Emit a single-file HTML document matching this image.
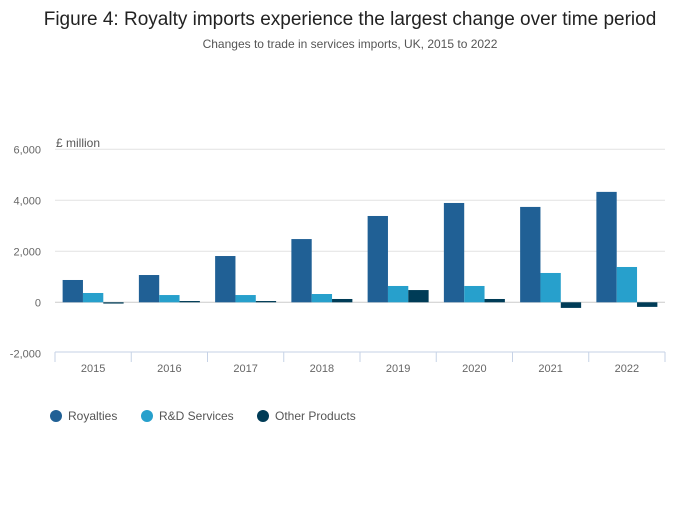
<!DOCTYPE html>
<html><head><meta charset="utf-8"><style>
body{margin:0;background:#fff;font-family:"Liberation Sans",sans-serif;}
svg text{font-family:"Liberation Sans",sans-serif;}
</style></head><body>
<svg id="chart" width="700" height="502" xmlns="http://www.w3.org/2000/svg">
<text x="350" y="25" text-anchor="middle" font-size="19" fill="#222">Figure 4: Royalty imports experience the largest change over time period</text>
<text x="350" y="48" text-anchor="middle" font-size="12" fill="#555">Changes to trade in services imports, UK, 2015 to 2022</text>
<text x="56" y="147" font-size="12" fill="#555">£ million</text>
<g id="grid"></g><g id="bars"></g><g id="xaxis"></g>
<g>
<g><circle cx="56" cy="416" r="6" fill="#206095"/><text x="68" y="420" font-size="12" fill="#555">Royalties</text></g>
<g><circle cx="147" cy="416" r="6" fill="#27a0cc"/><text x="159" y="420" font-size="12" fill="#555">R&amp;D Services</text></g>
<g><circle cx="263" cy="416" r="6" fill="#003c57"/><text x="275" y="420" font-size="12" fill="#555">Other Products</text></g>
</g>
</svg>
<script>
const categories=["2015","2016","2017","2018","2019","2020","2021","2022"];
const royalties=[875,1070,1815,2480,3385,3895,3740,4330];
const rdServices=[365,285,285,325,640,640,1150,1385];
const otherProducts=[-50,50,50,130,480,130,-220,-180];
const yTicks=[6000,4000,2000,0,-2000];
const yTickLabels=["6,000","4,000","2,000","0","-2,000"];
const NS="http://www.w3.org/2000/svg";
const x0=55,x1=665,yTop=149.3,yZero=302.3;
const y=v=>yZero-(v/1000)*25.5;
const catW=(x1-x0)/categories.length;
function mk(tag,attrs,parent){const e=document.createElementNS(NS,tag);for(const k in attrs)e.setAttribute(k,attrs[k]);parent.appendChild(e);return e;}
const grid=document.getElementById('grid'),bars=document.getElementById('bars'),xa=document.getElementById('xaxis');
yTicks.forEach((t,i)=>{
 if(t>-2000){const l=mk('line',{x1:x0,x2:x1,y1:y(t),y2:y(t),stroke:t===0?'#ccc':'#e2e2e2','stroke-width':1},grid);
 
 }
 const tx=mk('text',{x:41,y:y(t)+4,'text-anchor':'end','font-size':11,fill:'#666'},grid);tx.textContent=yTickLabels[i];
 
 
});
const ax=mk('line',{x1:x0,x2:x1,y1:352,y2:352,stroke:'#c6d2e6','stroke-width':1},xa);


const series=[[royalties,'#206095','royalties'],[rdServices,'#27a0cc','rd-services'],[otherProducts,'#003c57','other-products']];
const pad=catW*0.1,bw=(catW-2*pad)/3;
categories.forEach((c,i)=>{
 const cx=x0+i*catW;
 const tk=mk('line',{x1:cx,x2:cx,y1:352,y2:362,stroke:'#c6d2e6'},xa);
 
 
 const lb=mk('text',{x:cx+catW/2,y:372,'text-anchor':'middle','font-size':11,fill:'#666'},xa);lb.textContent=c;
 
 
 series.forEach((s,j)=>{
  const v=s[0][i];const top=Math.min(y(v),yZero),h=Math.abs(y(v)-yZero);
  const r=mk('rect',{x:cx+pad+j*bw,y:top,width:bw,height:h,fill:s[1]},bars);
  
  
 });
});
const last=mk('line',{x1:x1,x2:x1,y1:352,y2:362,stroke:'#c6d2e6'},xa);


</script>
</body></html>
